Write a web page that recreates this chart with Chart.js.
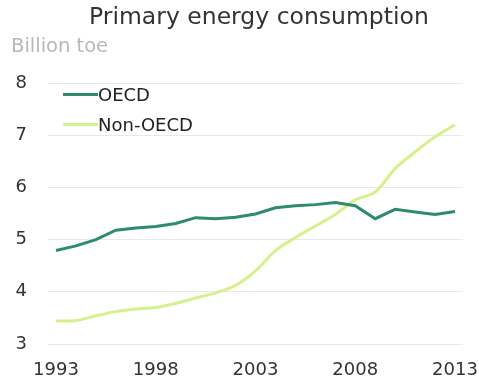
<!DOCTYPE html>
<html>
<head>
<meta charset="utf-8">
<script src="https://cdn.jsdelivr.net/npm/chart.js@4"></script>
<style>
  html, body { margin: 0; padding: 0; background: #fff; }
  body { width: 479px; height: 378px; position: relative; overflow: hidden; font-family: "DejaVu Sans", sans-serif; }
  #title { position: absolute; left: 89px; top: 2px; font-size: 23.5px; color: #333; white-space: nowrap; }
  #unit { position: absolute; left: 11px; top: 34px; font-size: 19.5px; color: #b8b8b8; }
  #wrap { position: absolute; left: 0; top: 0; width: 479px; height: 378px; }
  .leg { position: absolute; left: 63px; font-size: 18px; color: #222; display: flex; align-items: center; }
  .leg span.sw { display: inline-block; width: 35px; height: 3px; margin-right: 0; }
</style>
</head>
<body>
<div id="wrap"><canvas id="chart" width="479" height="378"></canvas></div>
<div id="title">Primary energy consumption</div>
<div id="unit">Billion toe</div>
<div class="leg" style="top:84px"><span class="sw" style="background:#2e8b6c"></span>OECD</div>
<div class="leg" style="top:114px"><span class="sw" style="background:#d6f08c"></span>Non-OECD</div>
<script>
// --- Datos ---
const years = [1993, 1994, 1995, 1996, 1997, 1998, 1999, 2000, 2001, 2002, 2003,
               2004, 2005, 2006, 2007, 2008, 2009, 2010, 2011, 2012, 2013];
const oecd = [4.79, 4.88, 5.00, 5.18, 5.22, 5.25, 5.31, 5.42, 5.40, 5.43, 5.49,
              5.61, 5.65, 5.67, 5.71, 5.65, 5.40, 5.58, 5.53, 5.48, 5.54];
const nonOecd = [3.44, 3.45, 3.54, 3.62, 3.67, 3.70, 3.78, 3.88, 3.98, 4.12, 4.40,
                 4.79, 5.04, 5.26, 5.48, 5.76, 5.91, 6.36, 6.68, 6.97, 7.20];
const xTicks = [1993, 1998, 2003, 2008, 2013];
const yTicks = [3, 4, 5, 6, 7, 8];

const toPoints = arr => arr.map((v, i) => ({ x: years[i], y: v }));
const tickFont = { size: 18, family: 'DejaVu Sans' };

new Chart(document.getElementById('chart').getContext('2d'), {
    type: 'line',
    data: {
        datasets: [{
            label: 'OECD',
            data: toPoints(oecd),
            borderColor: '#2e8b6c',
            borderWidth: 3,
            pointRadius: 0,
            tension: 0
        }, {
            label: 'Non-OECD',
            data: toPoints(nonOecd),
            borderColor: '#d6f08c',
            borderWidth: 3,
            pointRadius: 0,
            tension: 0.3
        }]
    },
    options: {
        responsive: false,
        animation: false,
        layout: { padding: { top: 83, right: 16, bottom: 0, left: 0 } },
        plugins: { legend: { display: false }, tooltip: { enabled: false } },
        scales: {
            x: {
                type: 'linear',
                min: 1992.6,
                max: 2013.4,
                afterBuildTicks: axis => { axis.ticks = xTicks.map(v => ({ value: v })); },
                afterFit: axis => {
                    axis.height = 34;
                    axis.paddingLeft = 0;
                    axis.paddingRight = 0;
                },
                grid: { display: false },
                border: { display: false },
                ticks: {
                    color: '#333',
                    font: tickFont,
                    padding: 8,
                    maxRotation: 0,
                    callback: v => String(v)
                }
            },
            y: {
                min: 3,
                max: 8,
                afterBuildTicks: axis => { axis.ticks = yTicks.map(v => ({ value: v })); },
                afterFit: axis => { axis.width = 48; },
                grid: { color: '#e8e8e8', lineWidth: 1, drawTicks: false },
                border: { display: false },
                ticks: {
                    color: '#333',
                    font: tickFont,
                    padding: 21
                }
            }
        }
    }
});
</script>
</body>
</html>
